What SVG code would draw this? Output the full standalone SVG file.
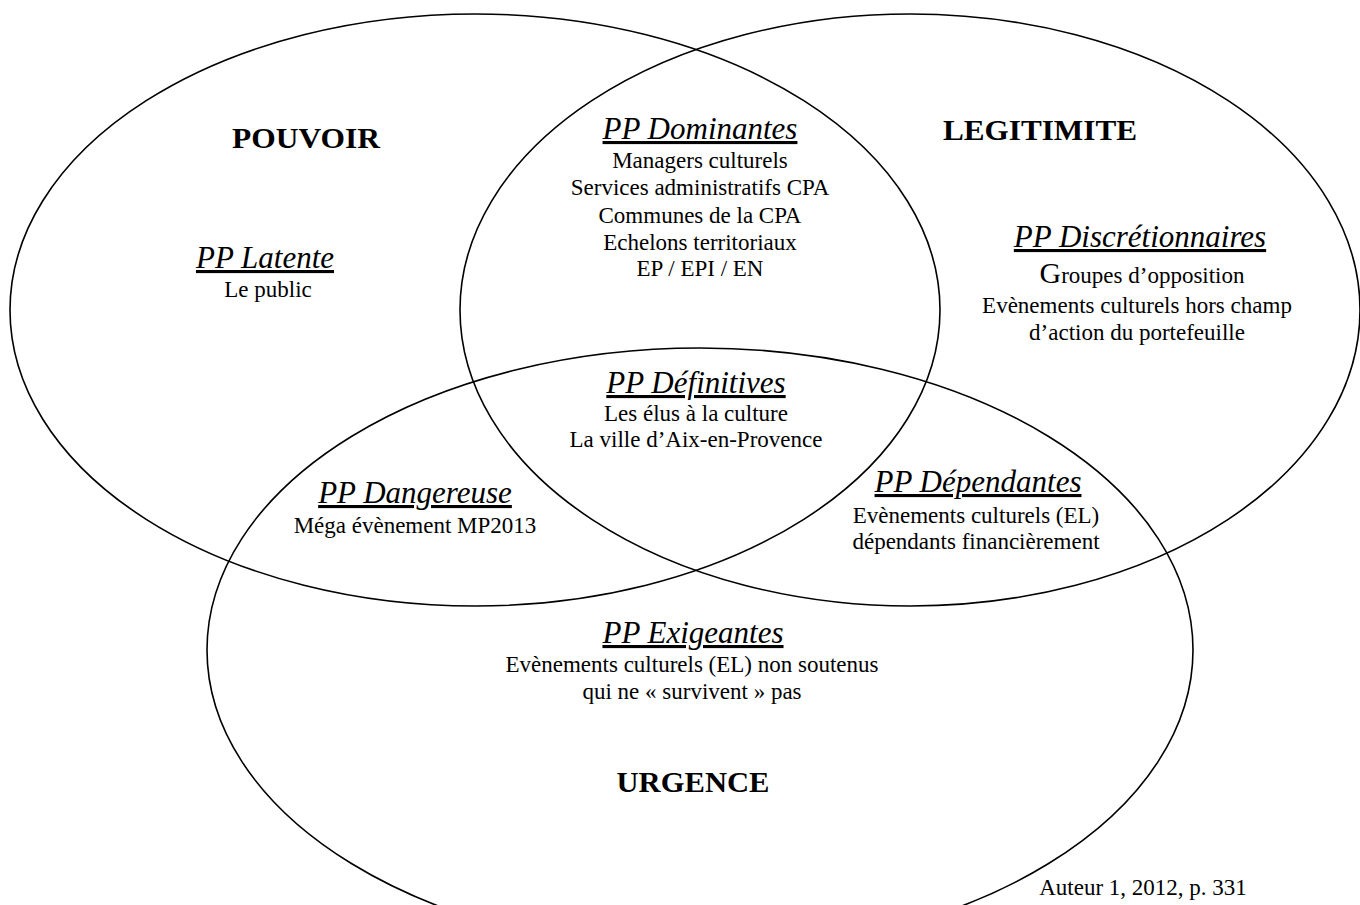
<svg xmlns="http://www.w3.org/2000/svg" width="1360" height="905" viewBox="0 0 1360 905">
<style>
.ell{fill:none;stroke:#000;stroke-width:1.6}
text{font-family:"Liberation Serif","Times New Roman",serif;fill:#000;text-anchor:middle}
.big{font-size:29px;font-weight:bold}
.hd{font-size:31px;font-style:italic;text-decoration:underline}
.tx{font-size:23px}
.src{font-size:23px}
</style>
<rect width="1360" height="905" fill="#fff"/>
<g id="connectors"></g>
<g id="pouvoir">
<ellipse class="ell" cx="475" cy="310" rx="465" ry="296"/>
<text class="big" x="306" y="148" textLength="148" lengthAdjust="spacingAndGlyphs">POUVOIR</text>
</g>
<g id="legitimite">
<ellipse class="ell" cx="910" cy="310" rx="450" ry="296"/>
<text class="big" x="1040" y="140" textLength="194" lengthAdjust="spacingAndGlyphs">LEGITIMITE</text>
</g>
<g id="urgence">
<ellipse class="ell" cx="700" cy="650" rx="493" ry="302"/>
<text class="big" x="693" y="792" textLength="153" lengthAdjust="spacingAndGlyphs">URGENCE</text>
</g>
<g id="latente">
<text class="hd" x="265" y="268">PP Latente</text>
<text class="tx" x="268" y="297">Le public</text>
</g>
<g id="dominantes">
<text class="hd" x="700" y="139">PP Dominantes</text>
<text class="tx" x="700" y="168">Managers culturels</text>
<text class="tx" x="700" y="195">Services administratifs CPA</text>
<text class="tx" x="700" y="223">Communes de la CPA</text>
<text class="tx" x="700" y="250">Echelons territoriaux</text>
<text class="tx" x="700" y="276">EP / EPI / EN</text>
</g>
<g id="discretionnaires">
<text class="hd" x="1140" y="247">PP Discrétionnaires</text>
<text class="tx" x="1142" y="283"><tspan font-size="30">G</tspan>roupes d’opposition</text>
<text class="tx" x="1137" y="313">Evènements culturels hors champ</text>
<text class="tx" x="1137" y="340">d’action du portefeuille</text>
</g>
<g id="definitives">
<text class="hd" x="696" y="393">PP Définitives</text>
<text class="tx" x="696" y="421">Les élus à la culture</text>
<text class="tx" x="696" y="447">La ville d’Aix-en-Provence</text>
</g>
<g id="dangereuse">
<text class="hd" x="415" y="503">PP Dangereuse</text>
<text class="tx" x="415" y="533">Méga évènement MP2013</text>
</g>
<g id="dependantes">
<text class="hd" x="978" y="492">PP Dépendantes</text>
<text class="tx" x="976" y="523">Evènements culturels (EL)</text>
<text class="tx" x="976" y="549">dépendants financièrement</text>
</g>
<g id="exigeantes">
<text class="hd" x="693" y="643">PP Exigeantes</text>
<text class="tx" x="692" y="672">Evènements culturels (EL) non soutenus</text>
<text class="tx" x="692" y="699">qui ne « survivent » pas</text>
</g>
<g id="source">
<text class="src" x="1143" y="895">Auteur 1, 2012, p. 331</text>
</g>
</svg>
